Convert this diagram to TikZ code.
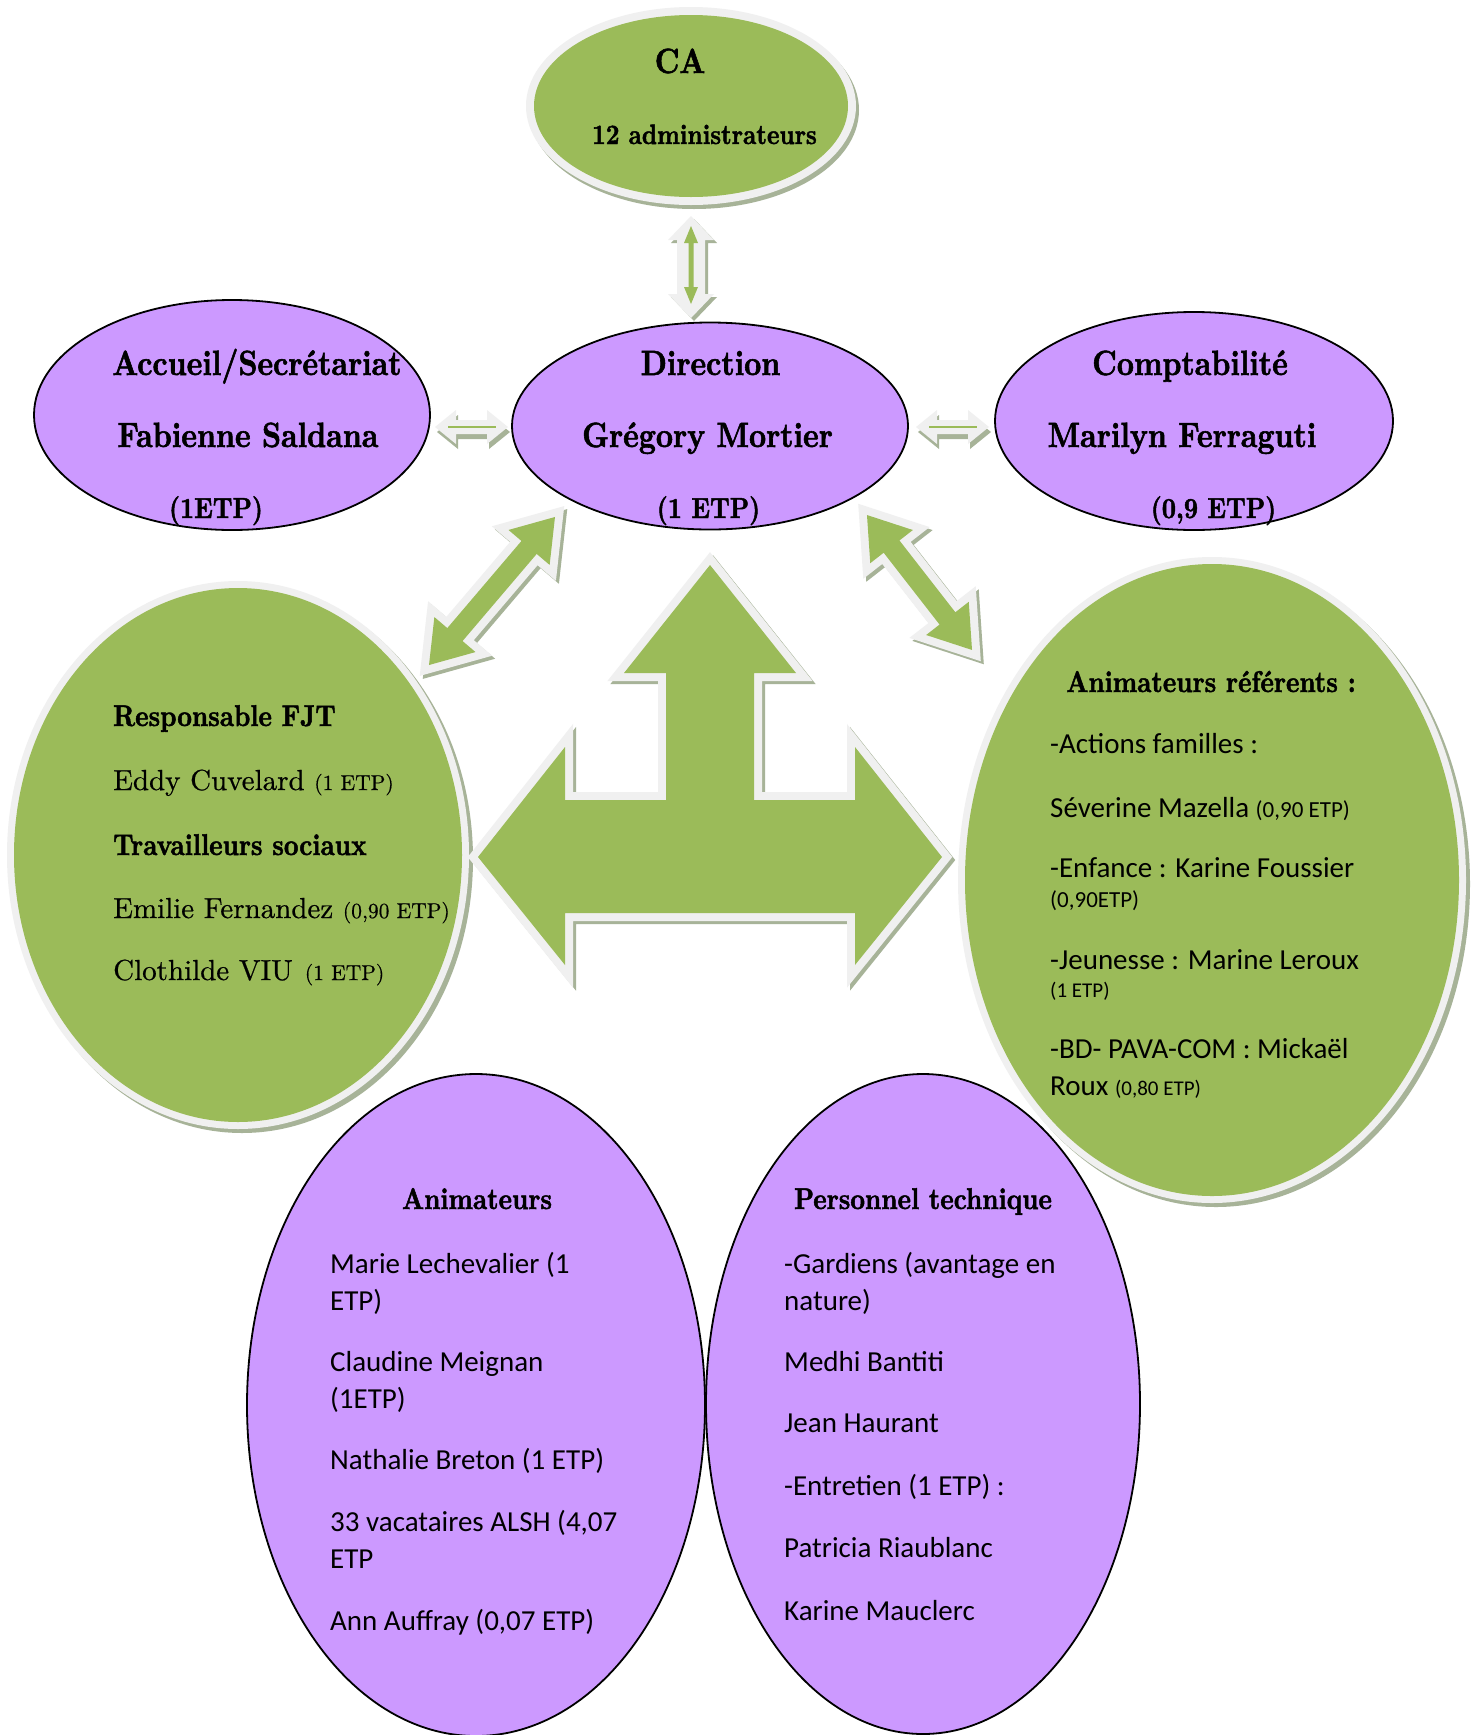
\documentclass[tikz,border=0pt]{standalone}
\usepackage{fontspec}
\usetikzlibrary{shapes.geometric}
\newfontfamily\HdF{lmroman10-bold}[Extension=.otf,FakeStretch=0.85,FakeBold=1.6]
\newfontfamily\RgF{lmroman10-regular}[Extension=.otf,FakeBold=0.6]
\newfontfamily\SaF{Carlito}
\definecolor{ogreen}{HTML}{9BBB59}
\definecolor{pcol}{HTML}{CC99FF}
\definecolor{lightc}{HTML}{F0F0F0}
\definecolor{shadowc}{HTML}{A7B398}
\newcommand\hdf[1]{\fontsize{#1}{#1}\HdF}
\newcommand\rgf[1]{\fontsize{#1}{#1}\RgF}
\newcommand\saf[1]{\fontsize{#1}{#1}\SaF}
% double arrow polygon in local coords: style, half length, shaft half width, head half width, head length
\newcommand\dblpoly[5]{\path[#1] (-#2,0) -- ({-#2+#5},#4) -- ({-#2+#5},#3) -- ({#2-#5},#3) -- ({#2-#5},#4) -- (#2,0) -- ({#2-#5},-#4) -- ({#2-#5},-#3) -- ({-#2+#5},-#3) -- ({-#2+#5},-#4) -- cycle;}
\newcommand\bigarr[1]{\path[#1] (710,565) -- (796,673) -- (754,673) -- (754,800) -- (855,800) -- (855,747) -- (942,857) -- (855,965) -- (855,913) -- (565,913) -- (565,965) -- (478,857) -- (565,747) -- (565,800) -- (666,800) -- (666,673) -- (624,673) -- cycle;}
\newcommand\diagarr[4]{%
 \begin{scope}[shift={({#1+3},{#2+3})},rotate=#3]\dblpoly{fill=shadowc,draw=shadowc,line width=16pt,line join=miter}{#4}{10}{27}{40}\end{scope}
 \begin{scope}[shift={(#1,#2)},rotate=#3]\dblpoly{draw=lightc,line width=16pt,line join=miter}{#4}{10}{27}{40}\dblpoly{fill=ogreen}{#4}{10}{27}{40}\end{scope}}
\newcommand\smallharr[2]{%
 \begin{scope}[shift={({#1+2},{#2+5})}]\dblpoly{fill=shadowc}{36.5}{7}{17}{21}\end{scope}
 \begin{scope}[shift={(#1,#2)}]\dblpoly{fill=lightc}{36.5}{7}{17}{21}\end{scope}
 \fill[ogreen] ({#1-24},{#2-0.8}) rectangle ({#1+24},{#2+0.8});}
\tikzset{
 purpleell/.style={ellipse, draw=black, line width=1.8pt, fill=pcol, inner sep=0pt, outer sep=0pt},
 greenell/.style={ellipse, fill=ogreen, inner sep=0pt, outer sep=0pt},
 lt/.style={inner sep=0pt, anchor=base west},
 ct/.style={inner sep=0pt, anchor=base},
}
\begin{document}
\begin{tikzpicture}[x=1pt,y=-1pt]
\useasboundingbox (0,0) rectangle (1476,1735);
\fill[white] (0,0) rectangle (1476,1735);

% bottom purple ellipses
\node[purpleell, minimum width=458pt, minimum height=662pt] (anim) at (476,1405) {};
\node[purpleell, minimum width=434pt, minimum height=660pt] (tech) at (923,1404) {};

% top purple ellipses
\node[purpleell, minimum width=396pt, minimum height=230pt] (acc) at (232,415) {};
\node[purpleell, minimum width=396pt, minimum height=207pt] (dir) at (710,426) {};
\node[purpleell, minimum width=398pt, minimum height=218pt] (compta) at (1194,421) {};

% green ellipses with light ring and shadow
\fill[shadowc] (694,110) ellipse [x radius=165, y radius=99];
\fill[lightc] (691,106) ellipse [x radius=165, y radius=99];
\node[greenell, minimum width=314pt, minimum height=182pt] (ca) at (691,106) {};

\fill[shadowc] (242,859) ellipse [x radius=231, y radius=274];
\fill[lightc] (238,855) ellipse [x radius=231, y radius=274];
\node[greenell, minimum width=448pt, minimum height=534pt] (fjt) at (238,855) {};

\fill[shadowc] (1216,884) ellipse [x radius=254, y radius=323];
\fill[lightc] (1212,880) ellipse [x radius=254, y radius=323];
\node[greenell, minimum width=494pt, minimum height=632pt] (ref) at (1212,880) {};

% big three-way arrow
\begin{scope}[shift={(3,3)}]\bigarr{fill=shadowc,draw=shadowc,line width=16pt,line join=miter}\end{scope}
\bigarr{draw=lightc,line width=16pt,line join=miter}
\bigarr{fill=ogreen}

% diagonal double arrows
\diagarr{492}{591}{49.6}{97.2}
\diagarr{919.5}{582.5}{-52.1}{85.5}

% CA <-> Direction vertical arrow
\begin{scope}[shift={(694,270)},rotate=90]\dblpoly{fill=shadowc}{51}{14}{23}{24}\end{scope}
\begin{scope}[shift={(691,267)},rotate=90]\dblpoly{fill=lightc}{51}{14}{23}{24}\end{scope}
\begin{scope}[shift={(691,265)},rotate=90]\dblpoly{fill=ogreen}{39}{2.5}{7}{17}\end{scope}

% small horizontal arrows
\smallharr{471.5}{427}
\smallharr{952.5}{427}

% texts: CA
\node[ct] (tca) at (680,73) {\hdf{35}CA};
\node[ct] (tca2) at (704.5,144) {\hdf{28}12 administrateurs};
% Accueil
\node[ct] (tacc1) at (257,375) {\hdf{35}Accueil/Secrétariat};
\node[ct] (tacc2) at (248,447) {\hdf{35}Fabienne Saldana};
\node[ct] (tacc3) at (216,518) {\hdf{29}(1ETP)};
% Direction
\node[ct] (tdir1) at (710.5,375) {\hdf{35}Direction};
\node[ct] (tdir2) at (707.5,447) {\hdf{35}Grégory Mortier};
\node[ct] (tdir3) at (708.5,518) {\hdf{29}(1 ETP)};
% Comptabilite
\node[ct] (tcp1) at (1190,375) {\hdf{35}Comptabilité};
\node[ct] (tcp2) at (1182,447) {\hdf{35}Marilyn Ferraguti};
\node[ct] (tcp3) at (1213.5,518) {\hdf{29}(0,9 ETP)};

% FJT ellipse
\node[lt] (tf1) at (113,726) {\hdf{30}Responsable FJT};
\node[lt] (tf2) at (113,790) {\rgf{29}Eddy Cuvelard {\rgf{21.5}(1 ETP)}};
\node[lt] (tf3) at (113,855) {\hdf{30}Travailleurs sociaux};
\node[lt] (tf4) at (113,918) {\rgf{29}Emilie Fernandez {\rgf{21.5}(0,90 ETP)}};
\node[lt] (tf5) at (113,980) {\rgf{29}Clothilde VIU\hspace{12pt}{\rgf{21.5}(1 ETP)}};

% referents ellipse
\node[lt] (tr0) at (1066,692) {\hdf{30}Animateurs référents :};
\node[lt] (tr1) at (1050,753) {\saf{29}-Actions familles :};
\node[lt] (tr2) at (1050,817) {\saf{29}Séverine Mazella {\saf{23}(0,90 ETP)}};
\node[lt] (tr3) at (1050,877) {\saf{29}-Enfance : Karine Foussier};
\node[lt] (tr4) at (1050,907) {\saf{23}(0,90ETP)};
\node[lt] (tr5) at (1050,969) {\saf{29}-Jeunesse : Marine Leroux};
\node[lt] (tr6) at (1050,997) {\saf{21}(1 ETP)};
\node[lt] (tr7) at (1050,1058) {\saf{29}-BD- PAVA-COM : Mickaël};
\node[lt] (tr8) at (1050,1095) {\saf{29}Roux {\saf{21}(0,80 ETP)}};

% Animateurs ellipse
\node[ct] (ta0) at (477,1209) {\hdf{30}Animateurs};
\node[lt] (ta1) at (330,1273) {\saf{29}Marie Lechevalier (1};
\node[lt] (ta2) at (330,1310) {\saf{29}ETP)};
\node[lt] (ta3) at (330,1371) {\saf{29}Claudine Meignan};
\node[lt] (ta4) at (330,1408) {\saf{29}(1ETP)};
\node[lt] (ta5) at (330,1469) {\saf{29}Nathalie Breton (1 ETP)};
\node[lt] (ta6) at (330,1531) {\saf{29}33 vacataires ALSH (4,07};
\node[lt] (ta7) at (330,1568) {\saf{29}ETP};
\begin{scope}
\clip (0,0) rectangle (1476,1634);
\node[lt] (ta8) at (330,1630) {\saf{29}Ann Auffray (0,07 ETP)};
\end{scope}

% Personnel technique ellipse
\node[ct] (tp0) at (923,1209) {\hdf{30}Personnel technique};
\node[lt] (tp1) at (784,1273) {\saf{29}-Gardiens (avantage en};
\node[lt] (tp2) at (784,1310) {\saf{29}nature)};
\node[lt] (tp3) at (784,1371) {\saf{29}Medhi Bantiti};
\node[lt] (tp4) at (784,1432) {\saf{29}Jean Haurant};
\node[lt] (tp5) at (784,1495) {\saf{29}-Entretien (1 ETP) :};
\node[lt] (tp6) at (784,1557) {\saf{29}Patricia Riaublanc};
\node[lt] (tp7) at (784,1620) {\saf{29}Karine Mauclerc};
\end{tikzpicture}
\end{document}
